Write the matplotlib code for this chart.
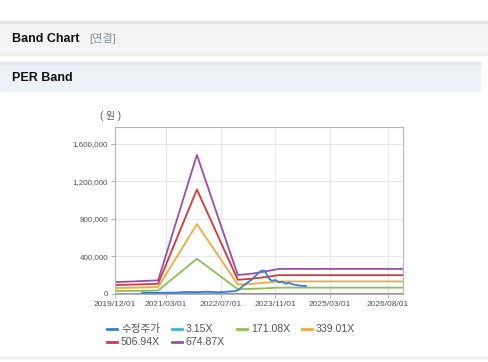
import pandas as pd
import matplotlib.pyplot as plt
import matplotlib.dates as mdates
from matplotlib.lines import Line2D
from matplotlib.patches import Rectangle
from matplotlib.ticker import FuncFormatter

plt.rcParams['font.family'] = ['Liberation Sans', 'Noto Sans CJK KR', 'DejaVu Sans']

# ==========================================
# Data
# ==========================================

band_dates = pd.to_datetime([
    "2019-12-01", "2020-06-01", "2020-12-20", "2021-12-01", "2022-12-01",
    "2023-04-01", "2023-08-01", "2023-12-01", "2026-12-15",
])
band_eps = [188, 200, 215, 2197, 300, 320, 355, 396, 396]

multiples = [3.15, 171.08, 339.01, 506.94, 674.87]
band_labels = ["3.15X", "171.08X", "339.01X", "506.94X", "674.87X"]

price_dates = pd.to_datetime([
    "2020-08-01", "2020-12-01", "2021-06-01", "2021-09-01", "2021-12-01",
    "2022-03-01", "2022-06-01", "2022-09-01", "2022-11-01", "2022-12-01",
    "2023-02-01", "2023-04-01", "2023-06-01", "2023-07-01", "2023-08-01",
    "2023-09-01", "2023-10-01", "2023-11-01", "2023-12-01", "2024-01-01",
    "2024-02-01", "2024-03-01", "2024-04-01", "2024-06-01", "2024-08-01",
])
price = [
    15000, 12000, 15000, 22000, 20000,
    25000, 18000, 25000, 30000, 40000,
    100000, 150000, 220000, 250000, 245000,
    170000, 140000, 150000, 125000, 130000,
    110000, 120000, 105000, 90000, 85000,
]

tick_dates = pd.to_datetime([
    "2019-12-01", "2021-03-01", "2022-07-01",
    "2023-11-01", "2025-03-01", "2026-08-01",
])

price_label = "수정주가"
colors = ["#3a7dd4", "#3bb8cf", "#8cc152", "#f5a93c", "#d9383a", "#9b4ea8"]

# ==========================================
# Figure
# ==========================================

fig = plt.figure(figsize=(4.88, 3.62), dpi=100)
W, H = 488, 362


def fy(y):
    return 1 - y / H


# header bars
fig.patches.append(Rectangle((0, fy(55)), 1, 5 / H, transform=fig.transFigure,
                             color="#ededed", zorder=0))
fig.patches.append(Rectangle((0, fy(52)), 1, 31 / H, transform=fig.transFigure,
                             color="#f4f4f4", zorder=1))
fig.patches.append(Rectangle((0, fy(23)), 1, 2 / H, transform=fig.transFigure,
                             color="#e2e2e2", zorder=1))
fig.patches.append(Rectangle((0, fy(91)), 480 / W, 29 / H, transform=fig.transFigure,
                             color="#eef2f7", zorder=1))
fig.patches.append(Rectangle((0, fy(64)), 480 / W, 2 / H, transform=fig.transFigure,
                             color="#e4e8ee", zorder=1))
fig.patches.append(Rectangle((0, fy(358)), 1, 1 / H, transform=fig.transFigure,
                             color="#eeeeee", zorder=1))

fig.text(12 / W, fy(39), "Band Chart", fontsize=9, fontweight="bold",
         va="center", ha="left", color="#111111")
fig.text(89 / W, fy(39), "[연결]", fontsize=8, va="center", ha="left",
         color="#8a9099")
fig.text(12 / W, fy(78), "PER Band", fontsize=9, fontweight="bold",
         va="center", ha="left", color="#111111")

ax = fig.add_axes([115 / W, fy(294), (403 - 115) / W, (294 - 127) / H])

for m, c in zip(multiples, colors[1:]):
    ax.plot(band_dates, [e * m for e in band_eps], color=c, lw=1.3)

ax.plot(price_dates, price, color=colors[0], lw=1.3)

ax.set_xlim(pd.Timestamp("2019-12-01"), pd.Timestamp("2026-12-15"))
ax.set_ylim(0, 1780000)
ax.set_yticks([0, 400000, 800000, 1200000, 1600000])
ax.yaxis.set_major_formatter(FuncFormatter(lambda v, p: f"{int(v):,}"))
ax.set_xticks(tick_dates)
ax.xaxis.set_major_formatter(mdates.DateFormatter("%Y/%m/%d"))

ax.grid(True, color="#e8e8e8", lw=0.8)
ax.set_axisbelow(True)
for s in ax.spines.values():
    s.set_color("#b5b5b5")
    s.set_linewidth(0.8)
ax.tick_params(axis="both", length=3, color="#b5b5b5", colors="#555555")
ax.tick_params(axis="y", labelsize=5.8, pad=2)
ax.tick_params(axis="x", labelsize=6.0, pad=2)

fig.text(110 / W, fy(116), "( 원 )", fontsize=7, ha="center", va="center",
         color="#555555")

# legend (grid layout)
legend_items = [
    (price_label, colors[0], 107, 329),
    (band_labels[0], colors[1], 172, 329),
    (band_labels[1], colors[2], 237, 329),
    (band_labels[2], colors[3], 302, 329),
    (band_labels[3], colors[4], 107, 342),
    (band_labels[4], colors[5], 172, 342),
]
for lab, c, x, y in legend_items:
    fig.lines.append(Line2D([x / W, (x + 10) / W], [fy(y), fy(y)],
                            transform=fig.transFigure, color=c, lw=2))
    fig.text((x + 14) / W, fy(y), lab, fontsize=7.6, va="center", ha="left",
             color="#555555")

plt.savefig("out.png", dpi=100)
